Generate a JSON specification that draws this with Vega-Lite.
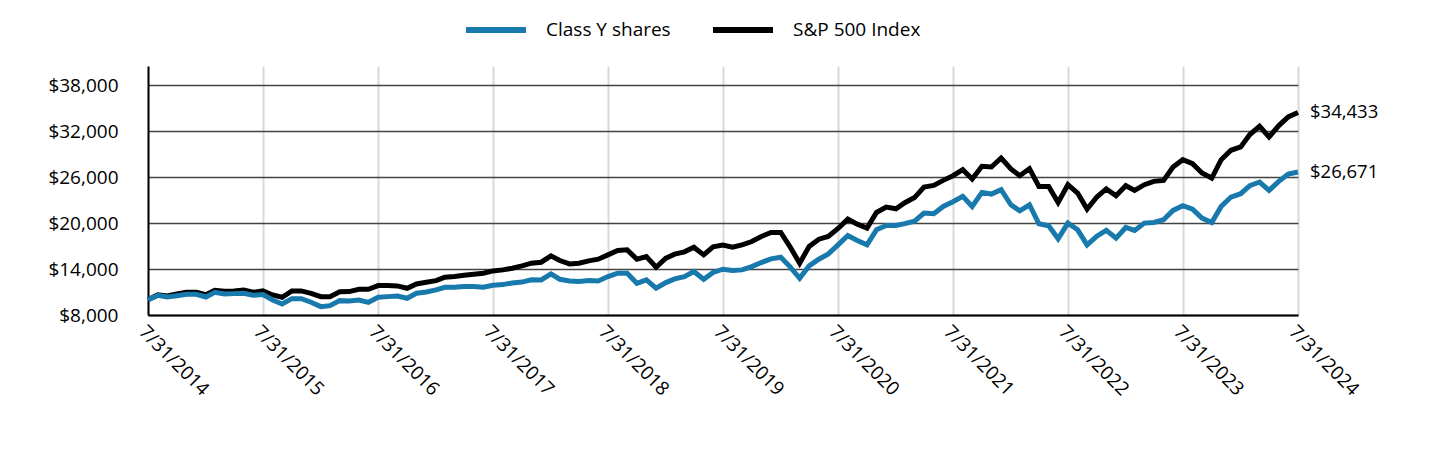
{
  "$schema": "https://vega.github.io/schema/vega-lite/v6.json",
  "width": 1150,
  "height": 249,
  "autosize": {"type": "none"},
  "padding": {"left": 148, "top": 66, "right": 142, "bottom": 141},
  "background": "white",
  "config": {
    "font": "Open Sans",
    "view": {"stroke": null},
    "axis": {"labelColor": "#000", "labelFontSize": 19, "title": null, "domainColor": "#000", "domainWidth": 2, "ticks": false}
  },
  "data": {"values": [
    {"date": "2014/07/31", "Class Y shares": 10000, "S&P 500 Index": 10000},
    {"date": "2014/08/31", "Class Y shares": 10560, "S&P 500 Index": 10620},
    {"date": "2014/09/30", "Class Y shares": 10355, "S&P 500 Index": 10486},
    {"date": "2014/10/31", "Class Y shares": 10525, "S&P 500 Index": 10747},
    {"date": "2014/11/30", "Class Y shares": 10700, "S&P 500 Index": 10965},
    {"date": "2014/12/31", "Class Y shares": 10700, "S&P 500 Index": 10965},
    {"date": "2015/01/31", "Class Y shares": 10355, "S&P 500 Index": 10660},
    {"date": "2015/02/28", "Class Y shares": 10960, "S&P 500 Index": 11227},
    {"date": "2015/03/31", "Class Y shares": 10747, "S&P 500 Index": 11096},
    {"date": "2015/04/30", "Class Y shares": 10790, "S&P 500 Index": 11140},
    {"date": "2015/05/31", "Class Y shares": 10830, "S&P 500 Index": 11270},
    {"date": "2015/06/30", "Class Y shares": 10575, "S&P 500 Index": 10965},
    {"date": "2015/07/31", "Class Y shares": 10660, "S&P 500 Index": 11140},
    {"date": "2015/08/31", "Class Y shares": 9960, "S&P 500 Index": 10616},
    {"date": "2015/09/30", "Class Y shares": 9440, "S&P 500 Index": 10311},
    {"date": "2015/10/31", "Class Y shares": 10135, "S&P 500 Index": 11140},
    {"date": "2015/11/30", "Class Y shares": 10135, "S&P 500 Index": 11140},
    {"date": "2015/12/31", "Class Y shares": 9660, "S&P 500 Index": 10834},
    {"date": "2016/01/31", "Class Y shares": 9090, "S&P 500 Index": 10398},
    {"date": "2016/02/29", "Class Y shares": 9220, "S&P 500 Index": 10398},
    {"date": "2016/03/31", "Class Y shares": 9875, "S&P 500 Index": 11030},
    {"date": "2016/04/30", "Class Y shares": 9831, "S&P 500 Index": 11052},
    {"date": "2016/05/31", "Class Y shares": 9962, "S&P 500 Index": 11358},
    {"date": "2016/06/30", "Class Y shares": 9657, "S&P 500 Index": 11358},
    {"date": "2016/07/31", "Class Y shares": 10311, "S&P 500 Index": 11837},
    {"date": "2016/08/31", "Class Y shares": 10398, "S&P 500 Index": 11837},
    {"date": "2016/09/30", "Class Y shares": 10486, "S&P 500 Index": 11794},
    {"date": "2016/10/31", "Class Y shares": 10180, "S&P 500 Index": 11489},
    {"date": "2016/11/30", "Class Y shares": 10834, "S&P 500 Index": 12055},
    {"date": "2016/12/31", "Class Y shares": 11009, "S&P 500 Index": 12274},
    {"date": "2017/01/31", "Class Y shares": 11270, "S&P 500 Index": 12491},
    {"date": "2017/02/28", "Class Y shares": 11619, "S&P 500 Index": 12928},
    {"date": "2017/03/31", "Class Y shares": 11619, "S&P 500 Index": 13014},
    {"date": "2017/04/30", "Class Y shares": 11706, "S&P 500 Index": 13190},
    {"date": "2017/05/31", "Class Y shares": 11706, "S&P 500 Index": 13320},
    {"date": "2017/06/30", "Class Y shares": 11619, "S&P 500 Index": 13451},
    {"date": "2017/07/31", "Class Y shares": 11881, "S&P 500 Index": 13756},
    {"date": "2017/08/31", "Class Y shares": 11968, "S&P 500 Index": 13887},
    {"date": "2017/09/30", "Class Y shares": 12186, "S&P 500 Index": 14105},
    {"date": "2017/10/31", "Class Y shares": 12300, "S&P 500 Index": 14410},
    {"date": "2017/11/30", "Class Y shares": 12600, "S&P 500 Index": 14759},
    {"date": "2017/12/31", "Class Y shares": 12579, "S&P 500 Index": 14890},
    {"date": "2018/01/31", "Class Y shares": 13364, "S&P 500 Index": 15718},
    {"date": "2018/02/28", "Class Y shares": 12666, "S&P 500 Index": 15108},
    {"date": "2018/03/31", "Class Y shares": 12448, "S&P 500 Index": 14672},
    {"date": "2018/04/30", "Class Y shares": 12360, "S&P 500 Index": 14759},
    {"date": "2018/05/31", "Class Y shares": 12491, "S&P 500 Index": 15064},
    {"date": "2018/06/30", "Class Y shares": 12448, "S&P 500 Index": 15283},
    {"date": "2018/07/31", "Class Y shares": 13014, "S&P 500 Index": 15849},
    {"date": "2018/08/31", "Class Y shares": 13451, "S&P 500 Index": 16416},
    {"date": "2018/09/30", "Class Y shares": 13451, "S&P 500 Index": 16503},
    {"date": "2018/10/31", "Class Y shares": 12143, "S&P 500 Index": 15283},
    {"date": "2018/11/30", "Class Y shares": 12579, "S&P 500 Index": 15631},
    {"date": "2018/12/31", "Class Y shares": 11489, "S&P 500 Index": 14236},
    {"date": "2019/01/31", "Class Y shares": 12230, "S&P 500 Index": 15413},
    {"date": "2019/02/28", "Class Y shares": 12710, "S&P 500 Index": 15937},
    {"date": "2019/03/31", "Class Y shares": 13014, "S&P 500 Index": 16242},
    {"date": "2019/04/30", "Class Y shares": 13669, "S&P 500 Index": 16852},
    {"date": "2019/05/31", "Class Y shares": 12666, "S&P 500 Index": 15849},
    {"date": "2019/06/30", "Class Y shares": 13560, "S&P 500 Index": 16900},
    {"date": "2019/07/31", "Class Y shares": 13974, "S&P 500 Index": 17130},
    {"date": "2019/08/31", "Class Y shares": 13800, "S&P 500 Index": 16852},
    {"date": "2019/09/30", "Class Y shares": 13887, "S&P 500 Index": 17157},
    {"date": "2019/10/31", "Class Y shares": 14323, "S&P 500 Index": 17593},
    {"date": "2019/11/30", "Class Y shares": 14846, "S&P 500 Index": 18247},
    {"date": "2019/12/31", "Class Y shares": 15326, "S&P 500 Index": 18771},
    {"date": "2020/01/31", "Class Y shares": 15544, "S&P 500 Index": 18771},
    {"date": "2020/02/29", "Class Y shares": 14323, "S&P 500 Index": 16939},
    {"date": "2020/03/31", "Class Y shares": 12797, "S&P 500 Index": 14759},
    {"date": "2020/04/30", "Class Y shares": 14410, "S&P 500 Index": 16939},
    {"date": "2020/05/31", "Class Y shares": 15283, "S&P 500 Index": 17899},
    {"date": "2020/06/30", "Class Y shares": 15980, "S&P 500 Index": 18247},
    {"date": "2020/07/31", "Class Y shares": 17157, "S&P 500 Index": 19294},
    {"date": "2020/08/31", "Class Y shares": 18378, "S&P 500 Index": 20516},
    {"date": "2020/09/30", "Class Y shares": 17724, "S&P 500 Index": 19861},
    {"date": "2020/10/31", "Class Y shares": 17157, "S&P 500 Index": 19338},
    {"date": "2020/11/30", "Class Y shares": 19120, "S&P 500 Index": 21387},
    {"date": "2020/12/31", "Class Y shares": 19686, "S&P 500 Index": 22085},
    {"date": "2021/01/31", "Class Y shares": 19686, "S&P 500 Index": 21867},
    {"date": "2021/02/28", "Class Y shares": 19930, "S&P 500 Index": 22650},
    {"date": "2021/03/31", "Class Y shares": 20250, "S&P 500 Index": 23330},
    {"date": "2021/04/30", "Class Y shares": 21300, "S&P 500 Index": 24702},
    {"date": "2021/05/31", "Class Y shares": 21213, "S&P 500 Index": 24919},
    {"date": "2021/06/30", "Class Y shares": 22172, "S&P 500 Index": 25573},
    {"date": "2021/07/31", "Class Y shares": 22783, "S&P 500 Index": 26184},
    {"date": "2021/08/31", "Class Y shares": 23480, "S&P 500 Index": 26969},
    {"date": "2021/09/30", "Class Y shares": 22172, "S&P 500 Index": 25748},
    {"date": "2021/10/31", "Class Y shares": 24003, "S&P 500 Index": 27405},
    {"date": "2021/11/30", "Class Y shares": 23786, "S&P 500 Index": 27318},
    {"date": "2021/12/31", "Class Y shares": 24353, "S&P 500 Index": 28495},
    {"date": "2022/01/31", "Class Y shares": 22390, "S&P 500 Index": 27056},
    {"date": "2022/02/28", "Class Y shares": 21605, "S&P 500 Index": 26184},
    {"date": "2022/03/31", "Class Y shares": 22390, "S&P 500 Index": 27100},
    {"date": "2022/04/30", "Class Y shares": 19905, "S&P 500 Index": 24788},
    {"date": "2022/05/31", "Class Y shares": 19643, "S&P 500 Index": 24788},
    {"date": "2022/06/30", "Class Y shares": 17942, "S&P 500 Index": 22695},
    {"date": "2022/07/31", "Class Y shares": 19992, "S&P 500 Index": 25007},
    {"date": "2022/08/31", "Class Y shares": 19120, "S&P 500 Index": 23916},
    {"date": "2022/09/30", "Class Y shares": 17157, "S&P 500 Index": 21823},
    {"date": "2022/10/31", "Class Y shares": 18290, "S&P 500 Index": 23400},
    {"date": "2022/11/30", "Class Y shares": 19050, "S&P 500 Index": 24450},
    {"date": "2022/12/31", "Class Y shares": 18030, "S&P 500 Index": 23568},
    {"date": "2023/01/31", "Class Y shares": 19425, "S&P 500 Index": 24876},
    {"date": "2023/02/28", "Class Y shares": 19032, "S&P 500 Index": 24265},
    {"date": "2023/03/31", "Class Y shares": 19992, "S&P 500 Index": 25007},
    {"date": "2023/04/30", "Class Y shares": 20079, "S&P 500 Index": 25443},
    {"date": "2023/05/31", "Class Y shares": 20428, "S&P 500 Index": 25573},
    {"date": "2023/06/30", "Class Y shares": 21649, "S&P 500 Index": 27318},
    {"date": "2023/07/31", "Class Y shares": 22259, "S&P 500 Index": 28277},
    {"date": "2023/08/31", "Class Y shares": 21823, "S&P 500 Index": 27754},
    {"date": "2023/09/30", "Class Y shares": 20646, "S&P 500 Index": 26533},
    {"date": "2023/10/31", "Class Y shares": 20079, "S&P 500 Index": 25879},
    {"date": "2023/11/30", "Class Y shares": 22172, "S&P 500 Index": 28277},
    {"date": "2023/12/31", "Class Y shares": 23393, "S&P 500 Index": 29498},
    {"date": "2024/01/31", "Class Y shares": 23829, "S&P 500 Index": 29934},
    {"date": "2024/02/29", "Class Y shares": 24876, "S&P 500 Index": 31548},
    {"date": "2024/03/31", "Class Y shares": 25356, "S&P 500 Index": 32638},
    {"date": "2024/04/30", "Class Y shares": 24265, "S&P 500 Index": 31242},
    {"date": "2024/05/31", "Class Y shares": 25443, "S&P 500 Index": 32725},
    {"date": "2024/06/30", "Class Y shares": 26402, "S&P 500 Index": 33859},
    {"date": "2024/07/31", "Class Y shares": 26671, "S&P 500 Index": 34433}
  ]},
  "transform": [{"fold": ["Class Y shares", "S&P 500 Index"], "as": ["series", "value"]}],
  "encoding": {
    "x": {
      "field": "date", "type": "temporal",
      "scale": {"domain": [{"year": 2014, "month": 7, "date": 31}, {"year": 2024, "month": 7, "date": 31}], "nice": false},
      "axis": {
        "values": [
          {"year": 2014, "month": 7, "date": 31}, {"year": 2015, "month": 7, "date": 31}, {"year": 2016, "month": 7, "date": 31},
          {"year": 2017, "month": 7, "date": 31}, {"year": 2018, "month": 7, "date": 31}, {"year": 2019, "month": 7, "date": 31},
          {"year": 2020, "month": 7, "date": 31}, {"year": 2021, "month": 7, "date": 31}, {"year": 2022, "month": 7, "date": 31},
          {"year": 2023, "month": 7, "date": 31}, {"year": 2024, "month": 7, "date": 31}
        ],
        "format": "%-m/%-d/%Y",
        "labelAngle": 45, "labelAlign": "left", "labelBaseline": "top", "labelPadding": 7,
        "labelOverlap": false, "labelFlush": false, "labelBound": false,
        "grid": true, "gridColor": "#d9d9d9", "gridWidth": 2
      }
    },
    "y": {
      "field": "value", "type": "quantitative",
      "scale": {"domain": [8000, 40500], "nice": false, "zero": false},
      "axis": {
        "values": [8000, 14000, 20000, 26000, 32000, 38000],
        "format": "$,.0f", "labelPadding": 30,
        "grid": true, "gridColor": "#444444", "gridWidth": 1.5
      }
    },
    "color": {
      "field": "series", "type": "nominal",
      "scale": {"domain": ["Class Y shares", "S&P 500 Index"], "range": ["#1779ac", "#000000"]},
      "legend": {
        "title": null, "orient": "none", "direction": "horizontal", "legendX": 315, "legendY": -69,
        "symbolType": "stroke", "symbolSize": 3600, "symbolStrokeWidth": 6,
        "labelFontSize": 19, "labelColor": "#000", "labelOffset": 17, "columnPadding": 30
      }
    }
  },
  "layer": [
    {"transform": [{"filter": "datum.series == 'S&P 500 Index'"}], "mark": {"type": "line", "strokeWidth": 5}},
    {"transform": [{"filter": "datum.series == 'Class Y shares'"}], "mark": {"type": "line", "strokeWidth": 5}},
    {
      "transform": [{"filter": "year(datum.date) == 2024 && month(datum.date) == 6"}],
      "mark": {"type": "text", "align": "left", "dx": 12, "fontSize": 18.5},
      "encoding": {"text": {"field": "value", "type": "quantitative", "format": "$,.0f"}, "color": {"value": "#000000"}}
    }
  ]
}
